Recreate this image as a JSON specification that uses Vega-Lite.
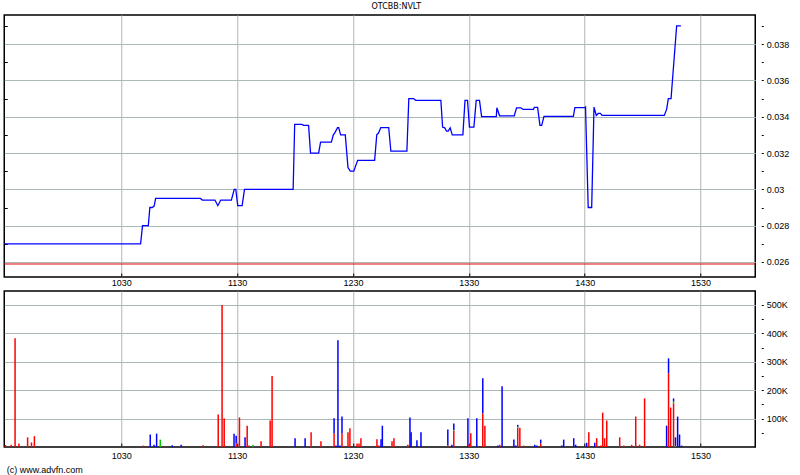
{
  "$schema": "https://vega.github.io/schema/vega-lite/v6.json",
  "background": "white",
  "padding": {"left": 2.25, "top": 3, "right": 5, "bottom": 2},
  "title": {"text": "OTCBB:NVLT", "fontSize": 8, "font": "DejaVu Sans", "fontWeight": "normal", "color": "#000", "offset": 3, "anchor": "middle", "dx": 0},
  "config": {
    "view": {"stroke": "#000", "strokeWidth": 1.5},
    "axis": {"labelFont": "Liberation Sans", "labelFontSize": 9, "labelColor": "#000", "titleFont": "Liberation Sans", "labelOverlap": false, "labelFlush": false, "labelBound": false}
  },
  "spacing": 14,
  "bounds": "flush",
  "vconcat": [
    {
      "width": 751,
      "height": 262,
      "layer": [
        {
          "data": {"values": [
            {"t":569.5,"p":0.0270},{"t":640,"p":0.0270},{"t":641,"p":0.0280},{"t":644,"p":0.0280},{"t":644.8,"p":0.0290},{"t":646,"p":0.0290},{"t":647,"p":0.02908},{"t":647.8,"p":0.0295},{"t":671,"p":0.0295},{"t":672,"p":0.02941},{"t":678.5,"p":0.02941},{"t":680,"p":0.0291},{"t":681.5,"p":0.02941},{"t":687,"p":0.02941},{"t":688.5,"p":0.0300},{"t":689.3,"p":0.0300},{"t":690.3,"p":0.0291},{"t":692.6,"p":0.0291},{"t":693.8,"p":0.0300},{"t":719,"p":0.0300},{"t":719.8,"p":0.03358},{"t":723.5,"p":0.03358},{"t":724.5,"p":0.03352},{"t":727,"p":0.03352},{"t":728,"p":0.0320},{"t":732.2,"p":0.0320},{"t":733.2,"p":0.0326},{"t":738.8,"p":0.0326},{"t":739.8,"p":0.0330},{"t":740.5,"p":0.0331},{"t":742,"p":0.0334},{"t":742.6,"p":0.0334},{"t":743.6,"p":0.0330},{"t":746,"p":0.0330},{"t":747.4,"p":0.0312},{"t":748.6,"p":0.0310},{"t":750.4,"p":0.0310},{"t":752.4,"p":0.0316},{"t":761.2,"p":0.0316},{"t":762.3,"p":0.0330},{"t":763.2,"p":0.0331},{"t":764.4,"p":0.0334},{"t":768.5,"p":0.0334},{"t":769.6,"p":0.0321},{"t":777.9,"p":0.0321},{"t":778.9,"p":0.0350},{"t":781.3,"p":0.0350},{"t":782.5,"p":0.0349},{"t":795.5,"p":0.0349},{"t":796.4,"p":0.03343},{"t":797.5,"p":0.03339},{"t":798.4,"p":0.03321},{"t":799.3,"p":0.03321},{"t":800.3,"p":0.03339},{"t":801.4,"p":0.0330},{"t":806.9,"p":0.0330},{"t":808,"p":0.0349},{"t":809.3,"p":0.0349},{"t":810.3,"p":0.03343},{"t":812.6,"p":0.03343},{"t":813.8,"p":0.0349},{"t":815.5,"p":0.0349},{"t":816.6,"p":0.0340},{"t":824.2,"p":0.0340},{"t":824.5,"p":0.03449},{"t":825.9,"p":0.03405},{"t":833.5,"p":0.03405},{"t":834.7,"p":0.03449},{"t":837,"p":0.03449},{"t":838,"p":0.0344},{"t":843.4,"p":0.0344},{"t":843.9,"p":0.03451},{"t":845.6,"p":0.03451},{"t":846.8,"p":0.03352},{"t":847.7,"p":0.03352},{"t":848.9,"p":0.03402},{"t":864.1,"p":0.03402},{"t":864.9,"p":0.0345},{"t":870.1,"p":0.0345},{"t":870.4,"p":0.03453},{"t":871.8,"p":0.0290},{"t":873.6,"p":0.0290},{"t":874.8,"p":0.03453},{"t":876,"p":0.03407},{"t":877,"p":0.03418},{"t":878.1,"p":0.03418},{"t":879,"p":0.03407},{"t":911.2,"p":0.03407},{"t":912.4,"p":0.0344},{"t":913.3,"p":0.0350},{"t":914.7,"p":0.0350},{"t":917.6,"p":0.0390},{"t":919.8,"p":0.0390}
          ]},
          "mark": {"type": "line", "color": "#0000ff", "strokeWidth": 1.3, "clip": true},
          "encoding": {
            "x": {"field": "t", "type": "quantitative",
              "scale": {"domain": [569.4, 958.3], "nice": false, "zero": false, "padding": 0},
              "axis": {"orient": "bottom", "title": null, "values": [630, 690, 750, 810, 870, 930],
                "labelExpr": "toString(floor(datum.value/60)*100 + datum.value % 60)",
                "domain": false, "ticks": true, "tickSize": -4, "tickColor": "#000", "tickWidth": 1,
                "labelPadding": 5, "grid": true, "gridColor": "#b4b4b4", "gridWidth": 1}},
            "y": {"field": "p", "type": "quantitative",
              "scale": {"domain": [0.025174, 0.0396], "nice": false, "zero": false},
              "axis": {"orient": "right", "title": null,
                "values": [0.026, 0.027, 0.028, 0.029, 0.030, 0.031, 0.032, 0.033, 0.034, 0.035, 0.036, 0.037, 0.038, 0.039],
                "labelExpr": "round(datum.value*1000) % 2 == 0 ? format(datum.value, '.3~f') : ''",
                "domain": false, "offset": 6, "tickSize": 2, "tickColor": "#000", "labelPadding": 3,
                "grid": true, "gridColor": "#a9b9b9",
                "gridOpacity": {"condition": {"test": "round(datum.value*1000) % 2 == 1", "value": 0}, "value": 1}}}
          }
        },
        {
          "data": {"values": [{"ref": 0.02589}]},
          "mark": {"type": "rule", "color": "#e00000", "strokeWidth": 1},
          "encoding": {
            "y": {"field": "ref", "type": "quantitative",
              "scale": {"domain": [0.025174, 0.0396], "nice": false, "zero": false},
              "axis": {"orient": "left", "title": null, "labels": false, "grid": false, "domain": false,
                "values": [0.027, 0.029, 0.031, 0.033, 0.035, 0.037, 0.039],
                "tickSize": -3, "tickColor": "#000"}}
          }
        }
      ],
      "resolve": {"axis": {"y": "independent"}}
    },
    {
      "width": 751,
      "height": 156,
      "data": {"values": [
        {"t":570,"side":"Down","v":7000},{"t":573,"side":"Down","v":8000},{"t":575,"side":"Down","v":383000},{"t":577,"side":"Down","v":12000},{"t":581.5,"side":"Down","v":34000},{"t":583.5,"side":"Down","v":16000},{"t":585,"side":"Down","v":38000},
        {"t":641.5,"side":"Down","v":5000},{"t":645,"side":"Up","v":44000},{"t":647,"side":"Up","v":8000},{"t":648.3,"side":"Up","v":47000},{"t":650.2,"side":"Neutral","v":26000},{"t":656.4,"side":"Up","v":6000},{"t":661,"side":"Up","v":8000},{"t":672.4,"side":"Down","v":6000},
        {"t":680.2,"side":"Down","v":114000},{"t":682.2,"side":"Down","v":500000},{"t":683.3,"side":"Down","v":100000},{"t":688.4,"side":"Up","v":47000},{"t":689.5,"side":"Down","v":12000},{"t":689.5,"side":"Up","v":28000},{"t":691.2,"side":"Down","v":104000},{"t":694.1,"side":"Up","v":34000},{"t":695.2,"side":"Down","v":75000},{"t":696.2,"side":"Down","v":5000},{"t":698.3,"side":"Neutral","v":8000},
        {"t":702.4,"side":"Down","v":20000},{"t":707.1,"side":"Down","v":93000},{"t":708.1,"side":"Down","v":250000},{"t":720,"side":"Up","v":31000},{"t":725.2,"side":"Up","v":31000},{"t":728.3,"side":"Down","v":52000},{"t":733.4,"side":"Down","v":20000},
        {"t":740.2,"side":"Down","v":48000},{"t":740.2,"side":"Up","v":53000},{"t":741.2,"side":"Up","v":5000},{"t":742.2,"side":"Up","v":376000},{"t":743.3,"side":"Up","v":5000},{"t":744.3,"side":"Down","v":48000},{"t":744.3,"side":"Up","v":59000},{"t":747.4,"side":"Down","v":52000},{"t":748.4,"side":"Down","v":66000},
        {"t":752.1,"side":"Down","v":12000},{"t":753.1,"side":"Down","v":12000},{"t":754.1,"side":"Down","v":31000},{"t":762.4,"side":"Down","v":27000},{"t":763.4,"side":"Down","v":5000},{"t":764.5,"side":"Up","v":27000},{"t":765.2,"side":"Up","v":75000},{"t":770.2,"side":"Down","v":20000},{"t":771.2,"side":"Down","v":31000},
        {"t":778.4,"side":"Down","v":8000},{"t":779.5,"side":"Up","v":104000},{"t":780.1,"side":"Up","v":52000},{"t":783.1,"side":"Up","v":24000},{"t":785.2,"side":"Up","v":52000},
        {"t":799.1,"side":"Down","v":5000},{"t":799.1,"side":"Up","v":57000},{"t":801.2,"side":"Up","v":8000},{"t":802.2,"side":"Down","v":57000},{"t":802.2,"side":"Neutral","v":3000},{"t":802.2,"side":"Up","v":23000},
        {"t":809.5,"side":"Up","v":101000},{"t":810.1,"side":"Down","v":8000},{"t":811,"side":"Down","v":48000},{"t":814.1,"side":"Up","v":101000},{"t":817.2,"side":"Down","v":119000},{"t":817.2,"side":"Up","v":123000},{"t":818.3,"side":"Down","v":75000},
        {"t":825,"side":"Up","v":5000},{"t":826,"side":"Down","v":8000},{"t":827.2,"side":"Up","v":214000},{"t":833.3,"side":"Up","v":26000},{"t":834.3,"side":"Up","v":5000},{"t":835.3,"side":"Down","v":68000},{"t":835.3,"side":"Neutral","v":3000},{"t":835.3,"side":"Up","v":7000},{"t":836.4,"side":"Down","v":68000},{"t":838.4,"side":"Down","v":5000},
        {"t":844.1,"side":"Up","v":8000},{"t":845.2,"side":"Up","v":5000},{"t":847.2,"side":"Down","v":13000},{"t":847.2,"side":"Up","v":13000},{"t":858.1,"side":"Up","v":5000},{"t":859.1,"side":"Up","v":26000},{"t":864.3,"side":"Up","v":31000},{"t":865.3,"side":"Up","v":8000},
        {"t":871,"side":"Up","v":15000},{"t":872.1,"side":"Down","v":52000},{"t":875.2,"side":"Up","v":15000},{"t":876.2,"side":"Down","v":31000},{"t":878.3,"side":"Down","v":5000},{"t":879.3,"side":"Down","v":121000},{"t":880.3,"side":"Down","v":31000},{"t":881.4,"side":"Down","v":93000},
        {"t":888.1,"side":"Down","v":34000},{"t":890.2,"side":"Down","v":5000},{"t":894.3,"side":"Down","v":8000},{"t":896.4,"side":"Down","v":107000},{"t":898.4,"side":"Down","v":8000},{"t":901,"side":"Down","v":171000},
        {"t":912.4,"side":"Up","v":75000},{"t":913.4,"side":"Down","v":260000},{"t":913.4,"side":"Up","v":52000},{"t":914.5,"side":"Down","v":139000},{"t":916,"side":"Down","v":154000},{"t":916,"side":"Neutral","v":6000},{"t":916,"side":"Up","v":11000},
        {"t":917,"side":"Neutral","v":4000},{"t":917,"side":"Up","v":30000},{"t":918.1,"side":"Up","v":107000},{"t":919.1,"side":"Up","v":44000},{"t":920.2,"side":"Up","v":5000}
      ]},
      "mark": {"type": "bar", "size": 1.5},
      "encoding": {
        "x": {"field": "t", "type": "quantitative",
          "scale": {"domain": [569.4, 958.3], "nice": false, "zero": false, "padding": 0},
          "axis": {"orient": "bottom", "values": [630, 690, 750, 810, 870, 930],
            "labelExpr": "toString(floor(datum.value/60)*100 + datum.value % 60)",
            "domain": false, "tickSize": -4, "tickColor": "#000", "labelPadding": 8,
            "grid": true, "gridColor": "#b4b4b4",
            "title": "(c) www.advfn.com", "titleX": 2, "titleY": 25, "titleAlign": "left", "titleAnchor": "start", "titleBaseline": "alphabetic",
            "titleFontSize": 9, "titleFontWeight": "normal", "titleColor": "#000"}},
        "y": {"field": "v", "type": "quantitative", "stack": "zero",
          "scale": {"domain": [0, 549000], "nice": false},
          "axis": {"orient": "right", "title": null,
            "values": [50000, 100000, 150000, 200000, 250000, 300000, 350000, 400000, 450000, 500000],
            "labelExpr": "datum.value % 100000 == 0 ? (datum.value/1000) + 'K' : ''",
            "domain": false, "offset": 6, "tickSize": 2, "tickColor": "#000", "labelPadding": 3,
            "grid": true, "gridColor": "#a9b9b9",
            "gridOpacity": {"condition": {"test": "datum.value % 100000 != 0", "value": 0}, "value": 1}}},
        "color": {"field": "side", "type": "nominal",
          "scale": {"domain": ["Down", "Neutral", "Up"], "range": ["#ff0000", "#00c800", "#0000ff"]},
          "legend": null},
        "order": {"field": "side", "type": "ordinal", "sort": "ascending"}
      }
    }
  ]
}
